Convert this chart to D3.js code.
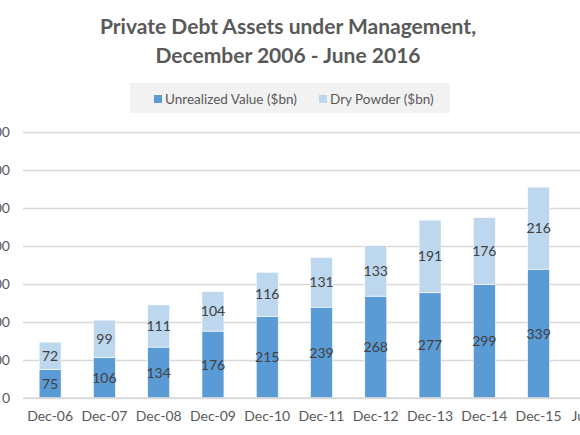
<!DOCTYPE html>
<html>
<head>
<meta charset="utf-8">
<script src="https://cdn.jsdelivr.net/npm/d3@7"></script>
<style>
  body { margin: 0; background: #fff; }
  svg { display: block; font-family: Lato, "Open Sans", sans-serif; }
</style>
</head>
<body>
<div id="chart"></div>
<script>
// data, in $bn
const categories = ["Dec-06", "Dec-07", "Dec-08", "Dec-09", "Dec-10", "Dec-11",
                    "Dec-12", "Dec-13", "Dec-14", "Dec-15", "Jun-16"]
const unrealized = [75, 106, 134, 176, 215, 239, 268, 277, 299, 339, 378]
const dryPowder = [72, 99, 111, 104, 116, 131, 133, 191, 176, 216, 217]
const yTicks = [0, 100, 200, 300, 400, 500, 600, 700]
const seriesNames = ["Unrealized Value ($bn)", "Dry Powder ($bn)"]
const seriesColors = ["#5b9bd5", "#bdd7ee"]

const width = 580, height = 435
const plot = { left: 23, right: 620, top: 132, bottom: 398 }

const svg = d3.select("#chart").append("svg")
    .attr("width", width)
    .attr("height", height)

// title, two lines
svg.append("text")
    .attr("x", 288).attr("y", 0)
    .attr("text-anchor", "middle")
    .attr("fill", "#595959")
    .attr("font-size", 21)
    .attr("font-weight", 700)
    .selectAll("tspan")
    .data(["Private Debt Assets under Management,", "December 2006 - June 2016"])
    .join("tspan")
    .attr("x", 288)
    .attr("y", (d, i) => 34 + i * 29)
    .text(d => d)

const x = d3.scaleBand()
    .domain(categories)
    .range([plot.left, plot.right])
    .paddingInner(0.595)
    .paddingOuter(0.595 / 2)

const y = d3.scaleLinear()
    .domain([0, 700])
    .range([plot.bottom, plot.top])

// gridlines + y labels
const yAxis = d3.axisLeft(y)
    .tickValues(yTicks)
    .tickSize(-(plot.right - plot.left))
    .tickPadding(13)
const gy = svg.append("g")
    .attr("transform", `translate(${plot.left},0)`)
    .call(yAxis)
gy.select(".domain").remove()
gy.selectAll(".tick line").attr("stroke", "#d9d9d9").attr("stroke-width", 1.3)
gy.selectAll(".tick text").attr("fill", "#595959").attr("font-size", 14)
    .attr("font-family", "Lato, sans-serif")

// stacked data
const stack = categories.map((c, i) => ({
    cat: c,
    parts: [
        { y0: 0, y1: unrealized[i], v: unrealized[i], s: 0 },
        { y0: unrealized[i], y1: unrealized[i] + dryPowder[i], v: dryPowder[i], s: 1 }
    ]
}))

const groups = svg.selectAll("g.bar")
    .data(stack)
    .join("g")
    .attr("class", "bar")

groups.selectAll("rect")
    .data(d => d.parts.map(p => Object.assign({ cat: d.cat }, p)))
    .join("rect")
    .attr("x", d => x(d.cat))
    .attr("y", d => y(d.y1))
    .attr("width", x.bandwidth())
    .attr("height", d => y(d.y0) - y(d.y1))
    .attr("fill", d => seriesColors[d.s])
    .attr("stroke", "#fff")
    .attr("stroke-width", 0.6)

groups.selectAll("text")
    .data(d => d.parts.map(p => Object.assign({ cat: d.cat }, p)))
    .join("text")
    .attr("x", d => x(d.cat) + x.bandwidth() / 2)
    .attr("y", d => (y(d.y0) + y(d.y1)) / 2 + 5)
    .attr("text-anchor", "middle")
    .attr("fill", "#404040")
    .attr("font-size", 14)
    .text(d => d.v)

// baseline
svg.append("line")
    .attr("x1", plot.left).attr("x2", plot.right)
    .attr("y1", y(0)).attr("y2", y(0))
    .attr("stroke", "#d9d9d9").attr("stroke-width", 1.3)

// x axis labels
const gx = svg.append("g")
    .attr("transform", `translate(0,${plot.bottom})`)
    .call(d3.axisBottom(x).tickSize(0).tickPadding(13))
gx.select(".domain").remove()
gx.selectAll(".tick text").attr("fill", "#595959").attr("font-size", 14)
    .attr("font-family", "Lato, sans-serif")

// legend
const legend = svg.append("g")
legend.append("rect")
    .attr("x", 130).attr("y", 83)
    .attr("width", 320).attr("height", 30)
    .attr("fill", "#f2f2f2")
const legX = [154, 319]
const items = legend.selectAll("g.item")
    .data(seriesNames)
    .join("g")
    .attr("class", "item")
    .attr("transform", (d, i) => `translate(${legX[i]},0)`)
items.append("rect")
    .attr("x", 0).attr("y", 95)
    .attr("width", 8).attr("height", 8)
    .attr("fill", (d, i) => seriesColors[i])
items.append("text")
    .attr("x", 11).attr("y", 103.5)
    .attr("fill", "#595959")
    .attr("font-size", 13.5)
    .text(d => d)
</script>
</body>
</html>
